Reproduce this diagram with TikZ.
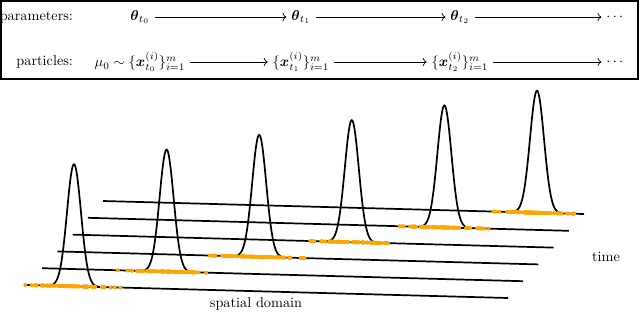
\documentclass[tikz,border=0pt]{standalone}
\usepackage{tikz}
\usetikzlibrary{arrows.meta, positioning}
\usepackage{xcolor}
\usepackage{amsmath}
\definecolor{partorange}{RGB}{255,165,0}

\begin{document}
\begin{tikzpicture}[
  x=0.7pt, y=-0.7pt,
  rowname/.style={anchor=east},
  arrow/.style={-To, line width=0.5pt},
  axis/.style={line width=1.2pt},
  density/.style={line width=1.2pt},
  particle/.style={fill=partorange}
]
  \useasboundingbox (0,0) rectangle (640,311);
  \draw[line width=1.2pt] (1,1) rectangle (638,79);

  \node[rowname] (par) at (78,17) {parameters:};
  \node (th0) at (140,17) {$\boldsymbol{\theta}_{t_0}$};
  \node (th1) at (301,17) {$\boldsymbol{\theta}_{t_1}$};
  \node (th2) at (460,17) {$\boldsymbol{\theta}_{t_2}$};
  \node (thd) at (616,17) {$\cdots$};

  \node[rowname] (prt) at (78,62) {particles:};
  \node (x0) at (140,62) {$\mu_0 \sim \{\boldsymbol{x}_{t_0}^{(i)}\}_{i=1}^m$};
  \node (x1) at (301,62) {$\{\boldsymbol{x}_{t_1}^{(i)}\}_{i=1}^m$};
  \node (x2) at (460,62) {$\{\boldsymbol{x}_{t_2}^{(i)}\}_{i=1}^m$};
  \node (xd) at (616,62) {$\cdots$};

  \draw[arrow] (th0) -- (th1);
  \draw[arrow] (th1) -- (th2);
  \draw[arrow] (th2) -- (thd);
  \draw[arrow] (x0) -- (x1);
  \draw[arrow] (x1) -- (x2);
  \draw[arrow] (x2) -- (xd);

  \foreach \k in {0,...,5} {
    \coordinate (s\k) at ({27+15.2*\k},{285-16.8*\k});
    \draw[axis] (s\k) -- ++(481,13);
  }
  \foreach \k in {0,...,5} {
    \pgfmathsetmacro\cx{74+92.6*\k}
    \pgfmathsetmacro\by{285-16.8*\k+0.027*(\cx-27-15.2*\k)}
    \draw[density] plot[domain=-25:25, samples=81, smooth]
      ({\cx+\x}, {\by+0.027*\x-122*exp(-(\x/7)^2/2)});
  }
  \pgfmathsetseed{11}
  \foreach \k in {0,...,5} {
    \pgfmathsetmacro\cx{74+92.6*\k}
    \pgfmathsetmacro\by{285-16.8*\k+0.027*(\cx-27-15.2*\k)}
    \foreach \j in {1,...,80} {
      \pgfmathsetmacro\dx{50*(rnd+rnd-1)}
      \fill[particle] ({\cx+\dx},{\by+0.027*\dx}) circle[radius=1.4pt];
    }
  }

  \node (space) at (256,304) {spatial domain};
  \node (time) at (606,257) {time};
\end{tikzpicture}
\end{document}
